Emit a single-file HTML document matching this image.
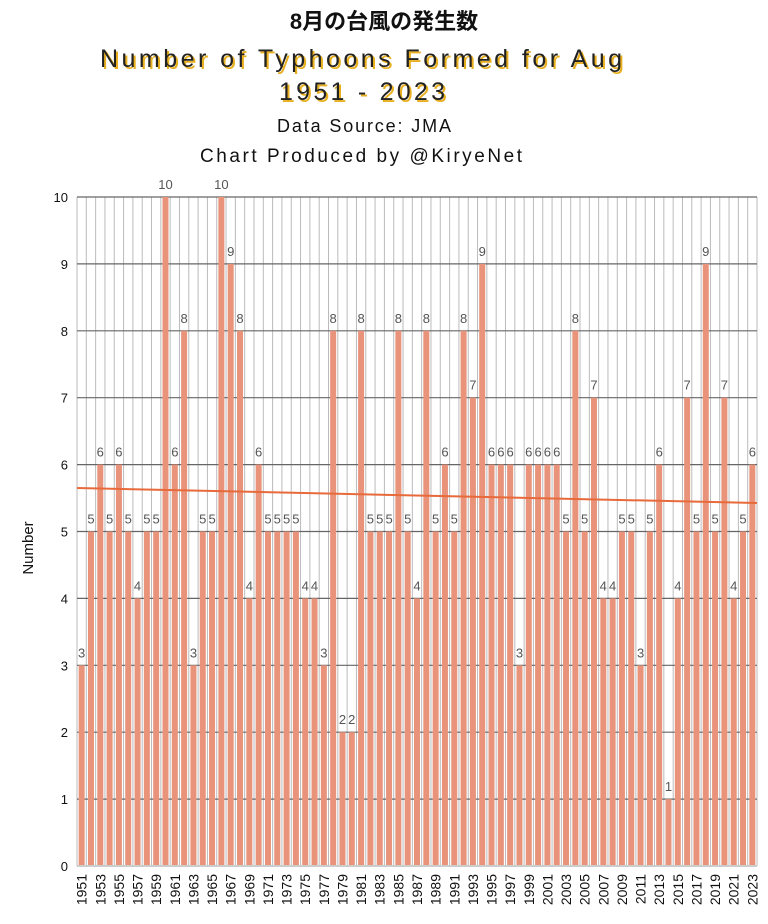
<!DOCTYPE html>
<html><head><meta charset="utf-8"><style>
body{margin:0;background:#fff;width:768px;height:919px;overflow:hidden}
</style></head><body>
<svg width="768" height="919" xmlns="http://www.w3.org/2000/svg" font-family="'Liberation Sans','Noto Sans CJK JP',sans-serif">
<text x="384" y="29" text-anchor="middle" font-size="22" font-weight="bold" fill="#111">8月の台風の発生数</text>
<g font-size="25" text-anchor="middle">
<text x="363" y="69" fill="#e8b020" textLength="522" lengthAdjust="spacing">Number of Typhoons Formed for Aug</text>
<text x="361" y="67" fill="#222" textLength="522" lengthAdjust="spacing">Number of Typhoons Formed for Aug</text>
<text x="364" y="102" fill="#e8b020" textLength="166" lengthAdjust="spacing">1951 - 2023</text>
<text x="362" y="100" fill="#222" textLength="166" lengthAdjust="spacing">1951 - 2023</text>
</g>
<text x="364" y="132" text-anchor="middle" font-size="18" fill="#111" textLength="174" lengthAdjust="spacing">Data Source: JMA</text>
<text x="361" y="162" text-anchor="middle" font-size="19" fill="#111" textLength="322" lengthAdjust="spacing">Chart Produced by @KiryeNet</text>
<g id="plot"></g>
<text transform="translate(33,548) rotate(-90)" text-anchor="middle" font-size="15" fill="#111">Number</text>
</svg>
<script>
const d=[3,5,6,5,6,5,4,5,5,10,6,8,3,5,5,10,9,8,4,6,5,5,5,5,4,4,3,8,2,2,8,5,5,5,8,5,4,8,5,6,5,8,7,9,6,6,6,3,6,6,6,6,5,8,5,7,4,4,5,5,3,5,6,1,4,7,5,9,5,7,4,5,6];
const L=77,R=757,B=866,T=197,n=d.length,s=(R-L)/n,u=(B-T)/10;
let h='';
for(let i=0;i<=n;i++){const x=L+i*s;h+=`<line x1="${x}" y1="${T}" x2="${x}" y2="${B}" stroke="#bbb" stroke-width="1"/>`;}
for(let v=0;v<=10;v++){const y=B-v*u;h+=`<line x1="${L}" y1="${y}" x2="${R}" y2="${y}" stroke="#666" stroke-width="1.2"/><text x="${L-9}" y="${y+5}" text-anchor="end" font-size="13" fill="#111">${v}</text>`;}
d.forEach((v,i)=>{const cx=L+(i+0.5)*s;const y=B-v*u;
h+=`<rect x="${cx-3}" y="${y}" width="6" height="${v*u}" fill="#e8937a"/>`;
h+=`<text x="${cx}" y="${y-8}" text-anchor="middle" font-size="13" fill="#555">${v}</text>`;
if(i%2==0)h+=`<text transform="translate(${cx+5},${B+8}) rotate(-90)" text-anchor="end" font-size="14" fill="#111">${1951+i}</text>`;});
h+=`<line x1="${L}" y1="${B}" x2="${R}" y2="${B}" stroke="#ccc" stroke-width="2"/>`;
h+=`<line x1="${L}" y1="488" x2="${R}" y2="503" stroke="#e86a3a" stroke-width="2"/>`;
document.getElementById('plot').innerHTML=h;
</script>
</body></html>
